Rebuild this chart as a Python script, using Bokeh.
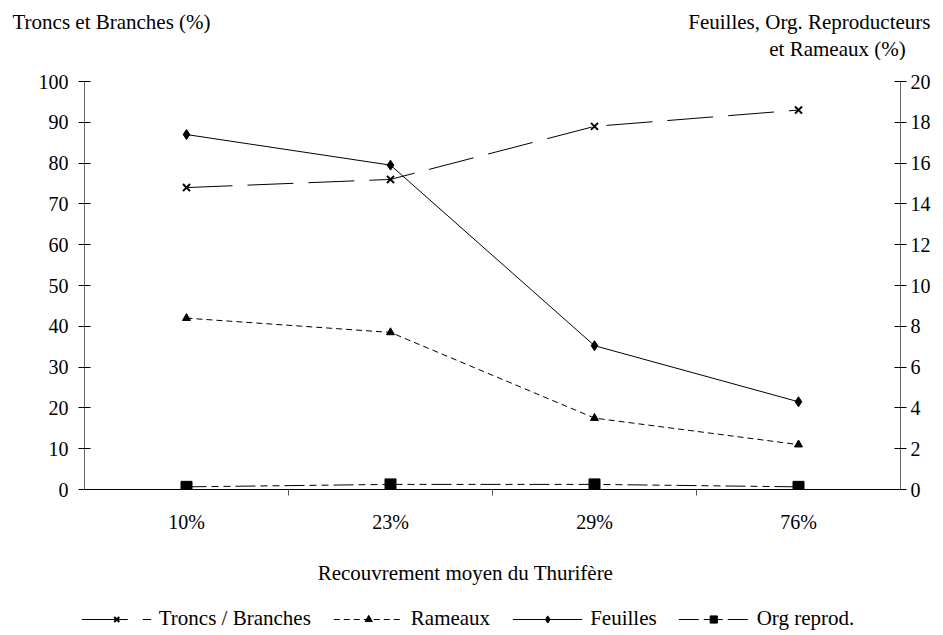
import numpy as np
from bokeh.plotting import figure
from bokeh.layouts import column
from bokeh.models import (Range1d, LinearAxis, FixedTicker, Legend, LegendItem, Label, ColumnDataSource)
from bokeh.embed import file_html
from bokeh.resources import INLINE

categories = ["10%", "23%", "29%", "76%"]
troncs = [74.0, 76.0, 89.0, 93.0]          # left axis (0-100)
rameaux = [8.4, 7.7, 3.5, 2.2]             # right axis (0-20)
feuilles = [17.4, 15.9, 7.05, 4.3]         # right axis (0-20)
org_reprod = [0.13, 0.25, 0.25, 0.13]      # right axis (0-20)
left_ticks = list(range(0, 101, 10))
right_ticks = list(range(0, 21, 2))
left_title = "Troncs et Branches (%)"
right_title = ["Feuilles, Org. Reproducteurs", "et Rameaux (%)"]
x_title = "Recouvrement moyen du Thurifère"
series_names = ["Troncs / Branches", "Rameaux", "Feuilles", "Org reprod."]

SERIF = "Liberation Serif"
W = 935
HEAD_H = 60
FOOT_H = 101

styles = [
    dict(dash="46 15", marker="x", size=10),
    dict(dash="6 4", marker="triangle", size=8),
    dict(dash="solid", marker="diamond", size=10),
    dict(dash="20 5 7 5 7 5", marker="square", size=11),
]


def no_align(fig):
    try:
        fig.frame_align = False
    except Exception:
        pass


# ---------------- header (axis titles) ----------------
head = figure(width=W, height=HEAD_H, output_backend="svg", toolbar_location=None,
              x_range=Range1d(0, 1), y_range=Range1d(0, 1), x_axis_type=None, y_axis_type=None,
              min_border=0)
head.outline_line_color = None
head.grid.visible = False
no_align(head)
for txt, x, y, align in [(left_title, 12, 39, "left"), (right_title[0], 930, 39, "right"),
                         (right_title[1], 837, 12, "center")]:
    head.add_layout(Label(x=x, y=y, x_units="screen", y_units="screen", text=txt,
                          text_font=SERIF, text_font_size="21px", text_color="black",
                          text_baseline="middle", text_align=align))

# ---------------- main chart ----------------
xs = np.arange(len(categories)) + 0.5
src = ColumnDataSource(dict(x=xs, troncs=troncs, rameaux=rameaux, feuilles=feuilles, org=org_reprod))

p = figure(frame_width=816, frame_height=408, output_backend="svg", toolbar_location=None,
           x_range=Range1d(0, len(categories)), y_range=Range1d(0, 100),
           x_axis_type=None, y_axis_type=None,
           min_border_left=84, min_border_right=35, min_border_top=81 - HEAD_H, min_border_bottom=0)
p.extra_y_ranges = {"right": Range1d(0, 20)}
p.outline_line_color = None
p.xgrid.visible = False
p.ygrid.visible = False
no_align(p)

xax = LinearAxis(ticker=FixedTicker(ticks=list(xs), minor_ticks=list(np.arange(1, len(categories)))),
                 major_label_overrides={float(x): c for x, c in zip(xs, categories)})
xax.major_tick_out = 0
xax.major_tick_in = 0
xax.minor_tick_out = 6
xax.minor_tick_in = 0
xax.minor_tick_line_color = "#555555"
xax.axis_line_color = "black"
xax.major_label_text_font = SERIF
xax.major_label_text_font_size = "20px"
xax.major_label_text_color = "black"
xax.major_label_standoff = 15
p.add_layout(xax, "below")

lax = LinearAxis(ticker=FixedTicker(ticks=left_ticks))
rax = LinearAxis(y_range_name="right", ticker=FixedTicker(ticks=right_ticks))
for ax, so in ((lax, 10), (rax, 4)):
    ax.major_tick_in = 6
    ax.major_tick_out = 6
    ax.minor_tick_out = 0
    ax.minor_tick_in = 0
    ax.axis_line_color = "#666666"
    ax.major_tick_line_color = "black"
    ax.major_label_text_font = SERIF
    ax.major_label_text_font_size = "20px"
    ax.major_label_text_color = "black"
    ax.major_label_standoff = so
p.add_layout(lax, "left")
p.add_layout(rax, "right")

cols = ["troncs", "rameaux", "feuilles", "org"]
ranges = ["default", "right", "right", "right"]


def draw_series(fig, col, rng, st):
    ln = fig.line("x", col, source=src, y_range_name=rng, color="black", line_width=1,
                  line_dash=st["dash"])
    if st["marker"] == "x":
        mk = fig.scatter("x", col, source=src, y_range_name=rng, marker="x", size=st["size"],
                         line_color="black", line_width=2)
    else:
        mk = fig.scatter("x", col, source=src, y_range_name=rng, marker=st["marker"], size=st["size"],
                         fill_color="black", line_color="black")
    return ln, mk


for col, rng, st in zip(cols, ranges, styles):
    draw_series(p, col, rng, st)

# ---------------- footer (x title + legend) ----------------
# the footer's ranges keep its copies of the series out of view: only their legend glyphs show
foot = figure(width=W, height=FOOT_H, output_backend="svg", toolbar_location=None,
              x_range=Range1d(0, len(categories)), y_range=Range1d(1000, 1001),
              x_axis_type=None, y_axis_type=None, min_border=0)
foot.extra_y_ranges = {"right": Range1d(1000, 1001)}
foot.outline_line_color = None
foot.grid.visible = False
no_align(foot)
foot.add_layout(Label(x=465, y=64, x_units="screen", y_units="screen", text=x_title,
                      text_font=SERIF, text_font_size="21px", text_color="black",
                      text_baseline="middle", text_align="center"))

items = []
for name, col, rng, st in zip(series_names, cols, ranges, styles):
    ln, mk = draw_series(foot, col, rng, st)
    items.append(LegendItem(label=name, renderers=[ln, mk]))

legend = Legend(items=items, orientation="horizontal", location="bottom_center")
legend.label_text_font = SERIF
legend.label_text_font_size = "21px"
legend.label_text_color = "black"
legend.glyph_width = 70
legend.glyph_height = 18
legend.label_height = 22
legend.label_standoff = 8
legend.spacing = 22
legend.border_line_color = None
legend.background_fill_alpha = 0
legend.margin = 5
legend.padding = 2
foot.add_layout(legend, "center")

layout = column(head, p, foot, spacing=0)
open("out.html", "w").write(file_html(layout, INLINE))
